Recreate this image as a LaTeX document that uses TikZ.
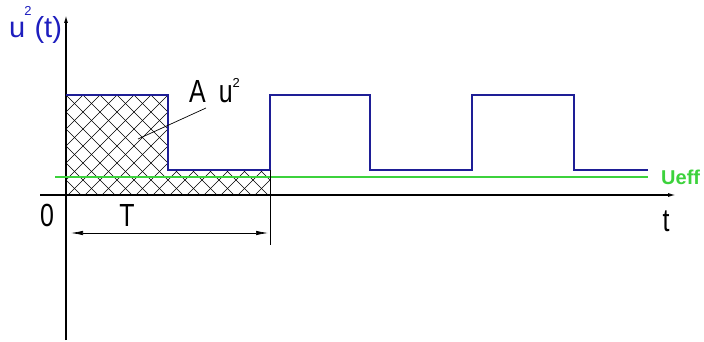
\documentclass[tikz,border=0pt]{standalone}
\usepackage{fontspec}
\setmainfont{Liberation Sans}
\newfontfamily\narrowfont[FakeStretch=0.78]{Liberation Sans}
\usetikzlibrary{arrows.meta}
\definecolor{sigblue}{RGB}{30,30,150}
\definecolor{effgreen}{RGB}{60,210,60}
\definecolor{lblblue}{RGB}{30,30,190}
\tikzset{
  axis/.style={line width=1.3pt, -{Latex[length=8pt,width=4pt]}},
  signal/.style={draw=sigblue, line width=1.5pt},
  eff/.style={draw=effgreen, line width=1.5pt},
  hatch/.style={line width=0.5pt, black},
  dim/.style={line width=0.7pt, {Latex[length=12pt,width=4.5pt]}-{Latex[length=12pt,width=4.5pt]}},
  lbl/.style={inner sep=0pt, anchor=base, font=\narrowfont\fontsize{32}{32}\selectfont}
}
\begin{document}
\begin{tikzpicture}[x=1pt,y=-1pt]
\useasboundingbox (0,0) rectangle (704,342);
% hatching
\begin{scope}
\clip (66,95) -- (168,95) -- (168,170) -- (270,170) -- (270,195) -- (66,195) -- cycle;
\foreach \k in {-20,...,30} {
  \draw[hatch] ({17*\k-29},0) -- ++(300,300);
  \draw[hatch] ({17*\k+161},0) -- ++(-300,300);
}
\end{scope}
% axes
\coordinate (xs) at (40,195);
\coordinate (xe) at (676,195);
\coordinate (ys) at (66,340);
\coordinate (ye) at (66,15);
\draw[axis] (xs) -- (xe);
\draw[axis] (ys) -- (ye);
% signal
\coordinate (s0) at (66,95);
\coordinate (s1) at (648,170);
\draw[signal] (s0) -- (168,95) -- (168,170) -- (270,170) -- (270,95) -- (370,95) -- (370,170) -- (472,170) -- (472,95) -- (574,95) -- (574,170) -- (s1);
% ueff
\coordinate (g0) at (55,177);
\coordinate (g1) at (648,177);
\draw[eff] (g0) -- (g1);
\node[inner sep=0pt, anchor=base west, text=effgreen, font=\fontsize{20}{20}\selectfont\bfseries] (ueff) at (661,184) {Ueff};
% dimension
\coordinate (ext0) at (270,170);
\coordinate (ext1) at (270,245);
\draw[line width=0.7pt] (ext0) -- (ext1);
\coordinate (d0) at (71,233);
\coordinate (d1) at (268,233);
\draw[dim] (d0) -- (d1);
\node[lbl] (T) at (127,226) {T};
\node[lbl] (zero) at (47,226) {0};
\node[lbl] (t) at (666,231) {t};
% labels
\node[inner sep=0pt, anchor=base west, text=lblblue, font=\fontsize{29}{29}\selectfont] (uy) at (9,38) {u\hspace{-1pt}\raisebox{22pt}{\fontsize{13}{13}\selectfont 2}\hspace{3pt}(t)};
\node[lbl, anchor=base west] (Au) at (189,103) {A\hspace{13pt}u\raisebox{16pt}{\normalfont\fontsize{13}{13}\selectfont 2}};
\coordinate (lead0) at (206,108);
\coordinate (lead1) at (138,139);
\draw[line width=0.7pt] (lead0) -- (lead1);
\end{tikzpicture}
\end{document}
